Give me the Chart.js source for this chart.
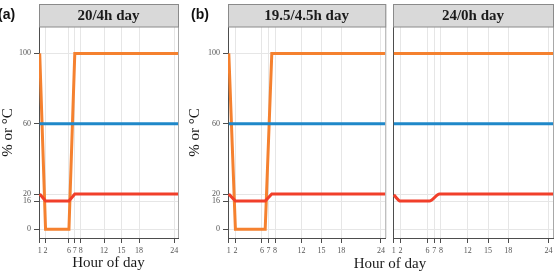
<!DOCTYPE html>
<html>
<head>
<meta charset="utf-8">
<script src="https://cdn.jsdelivr.net/npm/chart.js@4.4.1/dist/chart.umd.min.js"></script>
<style>
  html, body { margin: 0; padding: 0; background: #fff; }
  #fig { position: relative; width: 557px; height: 272px; overflow: hidden; }
  .panel { position: absolute; top: 0; height: 272px; }
  .tag { position: absolute; font: bold 14px "Liberation Sans", Arial, sans-serif; line-height: 14px; color: #111; }
  .xtitle { position: absolute; width: 120px; text-align: center; font: 15px "Liberation Serif", "Times New Roman", serif; line-height: 15px; color: #1a1a1a; }
</style>
</head>
<body>
<div id="fig">
  <div class="panel" style="left:0;width:185px"><canvas id="chartA"></canvas></div>
  <div class="panel" style="left:185px;width:203px"><canvas id="chartB1"></canvas></div>
  <div class="panel" style="left:388px;width:169px"><canvas id="chartB2"></canvas></div>
  <div class="tag" style="left:-2px;top:7px">(a)</div>
  <div class="tag" style="left:191px;top:7px">(b)</div>
  <div class="xtitle" style="left:330px;top:256px">Hour of day</div>
</div>
<script>
const xTicks = [1, 2, 6, 7, 8, 12, 15, 18, 24];
const yTicks = [0, 16, 20, 60, 100];
const panelTitles = ["20/4h day", "19.5/4.5h day", "24/0h day"];

// 20/4h day
const lightHoursA = [1, 2, 6, 7, 24.7];
const lightA = [100, 0, 0, 100, 100];
const tempHoursA = [1, 2, 6, 7, 24.7];
const tempA = [20, 16, 16, 20, 20];

// 19.5/4.5h day
const lightHoursB = [1, 2, 6.5, 7.5, 24.7];
const lightB = [100, 0, 0, 100, 100];
const tempHoursB = [1, 2, 6.5, 7.5, 24.7];
const tempB = [20, 16, 16, 20, 20];

// 24/0h day
const lightHoursC = [1, 24.7];
const lightC = [100, 100];
const tempHoursC = [1, 2, 6.3, 7.8, 24.7];
const tempC = [19.5, 16, 16, 20, 20];

// humidity is flat in every panel
const humidHours = [1, 24.7];
const humid = [60, 60];

const SERIF = '"Liberation Serif", "Times New Roman", serif';
const ORANGE = "#f5812f";
const BLUE = "#1f88c9";
const RED = "#f13f2a";
const GRID = "#e6e6e6";
const AXIS = "#4d4d4d";

function toPoints(xs, ys) {
  return xs.map((x, i) => ({ x, y: ys[i] }));
}

// grey facet strip + light right border, like ggplot
const stripPlugin = {
  id: "strip",
  afterDraw(chart, args, opts) {
    const { ctx, chartArea: a } = chart;
    const top = 4.5;
    ctx.save();
    ctx.lineWidth = 1;
    ctx.strokeStyle = "#a8a8a8";
    ctx.beginPath();
    ctx.moveTo(a.right + 0.5, a.top);
    ctx.lineTo(a.right + 0.5, a.bottom);
    ctx.stroke();

    ctx.fillStyle = "#d9d9d9";
    ctx.fillRect(a.left, top, a.right - a.left + 1, a.top - top);
    ctx.strokeStyle = "#8a8a8a";
    ctx.strokeRect(a.left + 0.5, top, a.right - a.left, a.top - top);

    ctx.fillStyle = "#1a1a1a";
    ctx.font = `bold 15px ${SERIF}`;
    ctx.textAlign = "center";
    ctx.textBaseline = "middle";
    ctx.fillText(opts.text, (a.left + a.right) / 2, (top + a.top) / 2 + 0.5);
    ctx.restore();
  },
};

function makeChart(canvasId, cfg) {
  const canvas = document.getElementById(canvasId);
  if (!canvas) return;

  return new Chart(canvas, {
    type: "line",
    plugins: [stripPlugin],
    data: {
      datasets: [
        { label: "RH", data: toPoints(humidHours, humid), borderColor: BLUE },
        { label: "Temperature", data: cfg.temp, borderColor: RED, cubicInterpolationMode: cfg.smooth ? "monotone" : "default", tension: cfg.smooth ? 0.4 : 0 },
        { label: "Light", data: cfg.light, borderColor: ORANGE },
      ],
    },
    options: {
      responsive: true,
      maintainAspectRatio: false,
      animation: false,
      layout: { padding: { top: 27, right: cfg.padRight, left: 0, bottom: 0 } },
      elements: {
        point: { radius: 0 },
        line: { borderWidth: 3, tension: 0, borderJoinStyle: "miter" },
      },
      plugins: {
        legend: { display: false },
        tooltip: { enabled: false },
        strip: { text: cfg.title },
      },
      scales: {
        x: {
          type: "linear",
          min: 0.88,
          max: 24.65,
          afterBuildTicks: (s) => { s.ticks = xTicks.map((v) => ({ value: v })); },
          afterFit: (s) => { s.height = 34; },
          ticks: { autoSkip: false, maxRotation: 0, padding: 3, color: "#555", font: { family: SERIF, size: 8 } },
          grid: { color: GRID, tickColor: AXIS, tickLength: 5 },
          border: { color: AXIS },
          title: {
            display: cfg.xTitle,
            text: "Hour of day",
            color: "#1a1a1a",
            padding: { top: 0, bottom: 1.5 },
            font: { family: SERIF, size: 15, lineHeight: 1 },
          },
        },
        y: {
          min: -5,
          max: 115,
          afterBuildTicks: (s) => { s.ticks = yTicks.map((v) => ({ value: v })); },
          afterFit: (s) => { s.width = cfg.yWidth; },
          ticks: { display: cfg.showY, padding: 3, color: "#555", font: { family: SERIF, size: 8 } },
          grid: { color: GRID, tickColor: AXIS, tickLength: 5, drawTicks: cfg.showY },
          border: { color: AXIS },
          title: {
            display: cfg.showY,
            text: "% or °C",
            color: "#1a1a1a",
            padding: { top: cfg.yTitlePad, bottom: 0 },
            font: { family: SERIF, size: 15, lineHeight: 1 },
          },
        },
      },
    },
  });
}

makeChart("chartA", {
  title: panelTitles[0],
  light: toPoints(lightHoursA, lightA),
  temp: toPoints(tempHoursA, tempA),
  yWidth: 39, padRight: 7, showY: true, yTitlePad: 0.5, xTitle: true,
});
makeChart("chartB1", {
  title: panelTitles[1],
  light: toPoints(lightHoursB, lightB),
  temp: toPoints(tempHoursB, tempB),
  yWidth: 43, padRight: 1, showY: true, yTitlePad: 2.5, xTitle: false,
});
makeChart("chartB2", {
  title: panelTitles[2],
  light: toPoints(lightHoursC, lightC),
  temp: toPoints(tempHoursC, tempC),
  yWidth: 5, padRight: 4, showY: false, yTitlePad: 0, xTitle: false, smooth: true,
});
</script>
</body>
</html>
